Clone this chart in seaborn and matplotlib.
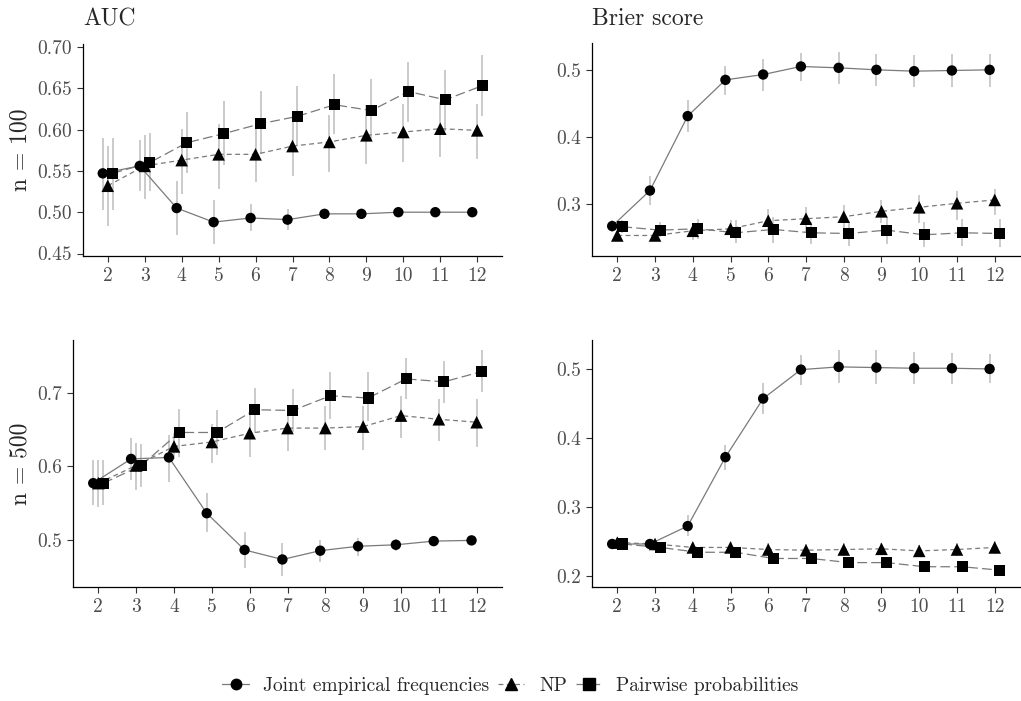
import numpy as np
import pandas as pd
import matplotlib
matplotlib.use("Agg")
import matplotlib.pyplot as plt
from matplotlib.lines import Line2D
import seaborn as sns

# ---------------- data ----------------
k = [2, 3, 4, 5, 6, 7, 8, 9, 10, 11, 12]
methods = ["Joint empirical frequencies", "NP", "Pairwise probabilities"]

# AUC, n = 100
auc100_joint    = [0.547, 0.556, 0.505, 0.488, 0.493, 0.491, 0.498, 0.498, 0.500, 0.500, 0.500]
auc100_joint_lo = [0.503, 0.526, 0.472, 0.461, 0.477, 0.478, 0.494, 0.495, 0.497, 0.497, 0.497]
auc100_joint_hi = [0.590, 0.587, 0.538, 0.515, 0.510, 0.504, 0.502, 0.501, 0.503, 0.503, 0.503]
auc100_np       = [0.532, 0.556, 0.563, 0.570, 0.570, 0.580, 0.585, 0.593, 0.597, 0.601, 0.599]
auc100_np_lo    = [0.483, 0.516, 0.522, 0.528, 0.537, 0.544, 0.549, 0.558, 0.561, 0.567, 0.564]
auc100_np_hi    = [0.580, 0.593, 0.601, 0.607, 0.610, 0.620, 0.618, 0.630, 0.631, 0.633, 0.631]
auc100_pw       = [0.547, 0.560, 0.584, 0.595, 0.607, 0.616, 0.630, 0.623, 0.646, 0.636, 0.653]
auc100_pw_lo    = [0.503, 0.526, 0.548, 0.557, 0.571, 0.580, 0.595, 0.587, 0.609, 0.598, 0.616]
auc100_pw_hi    = [0.590, 0.596, 0.621, 0.634, 0.647, 0.653, 0.667, 0.661, 0.682, 0.672, 0.690]

# Brier score, n = 100
bs100_joint    = [0.267, 0.320, 0.431, 0.485, 0.493, 0.505, 0.503, 0.500, 0.498, 0.499, 0.500]
bs100_joint_lo = [0.258, 0.299, 0.408, 0.463, 0.469, 0.484, 0.479, 0.476, 0.474, 0.475, 0.475]
bs100_joint_hi = [0.276, 0.342, 0.455, 0.506, 0.516, 0.525, 0.526, 0.523, 0.522, 0.523, 0.524]
bs100_np       = [0.253, 0.253, 0.260, 0.263, 0.275, 0.278, 0.281, 0.289, 0.295, 0.301, 0.306]
bs100_np_lo    = [0.246, 0.246, 0.246, 0.251, 0.256, 0.258, 0.261, 0.272, 0.271, 0.276, 0.283]
bs100_np_hi    = [0.260, 0.260, 0.271, 0.276, 0.293, 0.296, 0.298, 0.306, 0.314, 0.320, 0.322]
bs100_pw       = [0.266, 0.261, 0.263, 0.257, 0.262, 0.257, 0.256, 0.261, 0.254, 0.257, 0.256]
bs100_pw_lo    = [0.256, 0.251, 0.248, 0.242, 0.242, 0.241, 0.238, 0.241, 0.236, 0.238, 0.236]
bs100_pw_hi    = [0.276, 0.273, 0.278, 0.276, 0.281, 0.273, 0.273, 0.281, 0.273, 0.278, 0.278]

# AUC, n = 500
auc500_joint    = [0.577, 0.610, 0.612, 0.536, 0.486, 0.473, 0.485, 0.491, 0.493, 0.498, 0.499]
auc500_joint_lo = [0.547, 0.581, 0.579, 0.510, 0.462, 0.451, 0.469, 0.478, 0.484, 0.494, 0.495]
auc500_joint_hi = [0.609, 0.638, 0.643, 0.563, 0.510, 0.495, 0.500, 0.502, 0.501, 0.502, 0.503]
auc500_np       = [0.577, 0.601, 0.627, 0.633, 0.645, 0.652, 0.652, 0.654, 0.669, 0.664, 0.660]
auc500_np_lo    = [0.545, 0.568, 0.610, 0.605, 0.613, 0.621, 0.622, 0.622, 0.639, 0.635, 0.626]
auc500_np_hi    = [0.609, 0.631, 0.645, 0.658, 0.677, 0.682, 0.682, 0.682, 0.696, 0.691, 0.691]
auc500_pw       = [0.577, 0.601, 0.646, 0.646, 0.677, 0.676, 0.696, 0.693, 0.719, 0.715, 0.729]
auc500_pw_lo    = [0.547, 0.572, 0.613, 0.616, 0.645, 0.646, 0.665, 0.661, 0.691, 0.686, 0.701]
auc500_pw_hi    = [0.609, 0.630, 0.678, 0.676, 0.707, 0.705, 0.728, 0.728, 0.747, 0.743, 0.759]

# Brier score, n = 500
bs500_joint    = [0.246, 0.246, 0.272, 0.372, 0.457, 0.499, 0.503, 0.502, 0.501, 0.501, 0.500]
bs500_joint_lo = [0.242, 0.242, 0.257, 0.353, 0.435, 0.477, 0.479, 0.478, 0.478, 0.478, 0.479]
bs500_joint_hi = [0.250, 0.250, 0.288, 0.390, 0.479, 0.520, 0.527, 0.528, 0.524, 0.523, 0.521]
bs500_np       = [0.248, 0.246, 0.241, 0.241, 0.238, 0.237, 0.238, 0.239, 0.236, 0.238, 0.241]
bs500_np_lo    = [0.242, 0.239, 0.233, 0.233, 0.229, 0.229, 0.229, 0.230, 0.227, 0.229, 0.231]
bs500_np_hi    = [0.254, 0.253, 0.249, 0.249, 0.247, 0.246, 0.247, 0.248, 0.245, 0.247, 0.251]
bs500_pw       = [0.246, 0.241, 0.234, 0.234, 0.225, 0.225, 0.219, 0.219, 0.213, 0.213, 0.208]
bs500_pw_lo    = [0.240, 0.234, 0.226, 0.226, 0.217, 0.217, 0.211, 0.211, 0.205, 0.205, 0.200]
bs500_pw_hi    = [0.252, 0.248, 0.242, 0.242, 0.233, 0.233, 0.227, 0.227, 0.221, 0.221, 0.216]

titles = ["AUC", "Brier score"]
row_labels = ["n = 100", "n = 500"]

panels = [
    dict(vals=[(auc100_joint, auc100_joint_lo, auc100_joint_hi),
               (auc100_np, auc100_np_lo, auc100_np_hi),
               (auc100_pw, auc100_pw_lo, auc100_pw_hi)],
         yticks=[0.45, 0.50, 0.55, 0.60, 0.65, 0.70], fmt="{:.2f}", ylim=(0.447, 0.7035)),
    dict(vals=[(bs100_joint, bs100_joint_lo, bs100_joint_hi),
               (bs100_np, bs100_np_lo, bs100_np_hi),
               (bs100_pw, bs100_pw_lo, bs100_pw_hi)],
         yticks=[0.3, 0.4, 0.5], fmt="{:.1f}", ylim=(0.2224, 0.540)),
    dict(vals=[(auc500_joint, auc500_joint_lo, auc500_joint_hi),
               (auc500_np, auc500_np_lo, auc500_np_hi),
               (auc500_pw, auc500_pw_lo, auc500_pw_hi)],
         yticks=[0.5, 0.6, 0.7], fmt="{:.1f}", ylim=(0.4355, 0.772)),
    dict(vals=[(bs500_joint, bs500_joint_lo, bs500_joint_hi),
               (bs500_np, bs500_np_lo, bs500_np_hi),
               (bs500_pw, bs500_pw_lo, bs500_pw_hi)],
         yticks=[0.2, 0.3, 0.4, 0.5], fmt="{:.1f}", ylim=(0.1836, 0.542)),
]

# ---------------- style ----------------
sns.set_theme(style="ticks")
plt.rcParams["font.family"] = ["cmr10", "DejaVu Sans"]
plt.rcParams["axes.unicode_minus"] = False
plt.rcParams["lines.scale_dashes"] = False

line_col = "#7a7a7a"
err_col = "#bdbdbd"
tick_lab_col = "#4d4d4d"
dodge = {methods[0]: -0.135, methods[1]: 0.0, methods[2]: 0.135}
dash_map = {methods[0]: "", methods[1]: (3.5, 2.5), methods[2]: (7, 3)}
marker_map = {methods[0]: "o", methods[1]: "^", methods[2]: "s"}
size_map = {methods[0]: 56, methods[1]: 82, methods[2]: 64}

W, H = 1021, 701
fig = plt.figure(figsize=(W / 100, H / 100), dpi=100)

boxes = [(83, 502, 44, 256), (592, 1020, 43, 256), (73, 502, 340, 587), (592, 1020, 340, 587)]

for p, (l, r, t, b) in zip(panels, boxes):
    ax = fig.add_axes([l / W, 1 - b / H, (r - l) / W, (b - t) / H])
    rows = []
    for m, (mean, lo, hi) in zip(methods, p["vals"]):
        for kk, v, a, c in zip(k, mean, lo, hi):
            rows.append(dict(k=kk, x=kk + dodge[m], mean=v, lo=a, hi=c, method=m))
    df = pd.DataFrame(rows)
    ax.vlines(df["x"], df["lo"], df["hi"], color=err_col, lw=1.1, zorder=1)
    sns.lineplot(data=df, x="x", y="mean", style="method", style_order=methods,
                 dashes=dash_map, color=line_col, lw=0.9, legend=False, ax=ax,
                 estimator=None, sort=True, zorder=2)
    for m in methods:
        sub = df[df["method"] == m]
        sns.scatterplot(data=sub, x="x", y="mean", marker=marker_map[m], s=size_map[m],
                        color="black", edgecolor="none", linewidth=0, legend=False,
                        ax=ax, zorder=3)
    ax.set_xlim(1.33, 12.67)
    ax.set_ylim(*p["ylim"])
    ax.set_xticks(k)
    ax.set_xticklabels([str(v) for v in k])
    ax.set_yticks(p["yticks"])
    ax.set_yticklabels([p["fmt"].format(v) for v in p["yticks"]])
    ax.set_xlabel("")
    ax.set_ylabel("")
    sns.despine(ax=ax)
    for s in ["left", "bottom"]:
        ax.spines[s].set_linewidth(0.9)
        ax.spines[s].set_color("black")
    ax.tick_params(axis="both", length=4, width=0.8, color="#333333",
                   labelcolor=tick_lab_col, labelsize=14, pad=4)

# titles
fig.text(83 / W, 1 - 25 / H, titles[0], fontsize=17, ha="left", va="baseline")
fig.text(592 / W, 1 - 25 / H, titles[1], fontsize=17, ha="left", va="baseline")
# row labels
fig.text(20 / W, 1 - 150 / H, row_labels[0], fontsize=17, rotation=90, ha="center", va="center")
fig.text(20 / W, 1 - 464 / H, row_labels[1], fontsize=17, rotation=90, ha="center", va="center")

# legend
handles = [Line2D([0], [0], color=line_col, lw=0.9,
                  linestyle="-" if dash_map[m] == "" else (0, dash_map[m]),
                  marker=marker_map[m], markersize=8.5 if m != methods[0] else 7.5,
                  markerfacecolor="black", markeredgecolor="black") for m in methods]
fig.legend(handles, methods, loc="center", bbox_to_anchor=(0.5, 1 - 686 / H), ncol=3,
           frameon=False, fontsize=14, handlelength=1.35, handletextpad=0.75,
           columnspacing=0.45)

fig.savefig("out.png", dpi=100)
